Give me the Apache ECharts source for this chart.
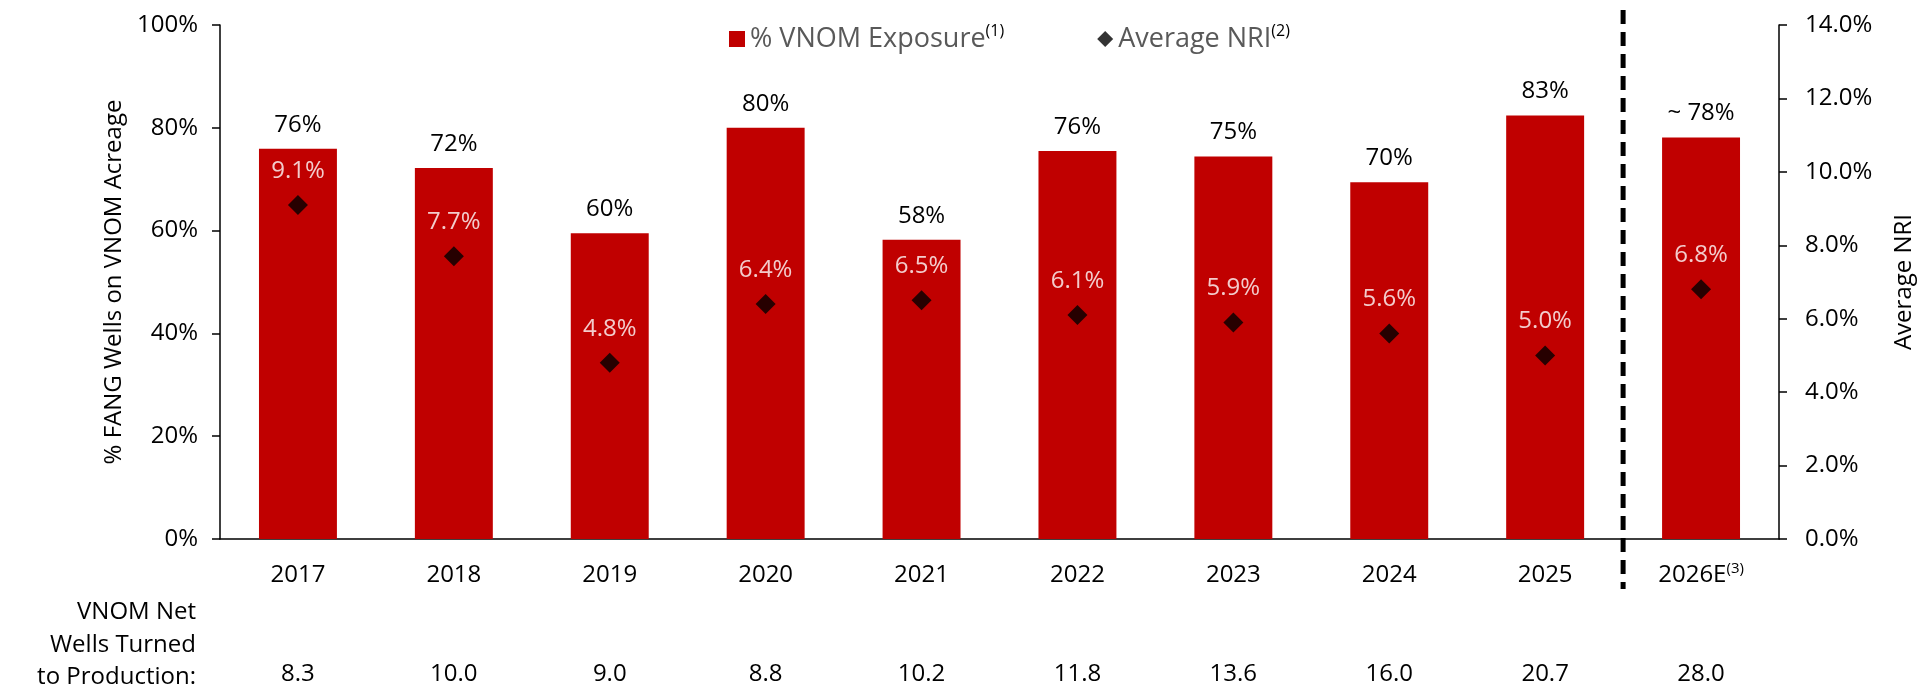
<!DOCTYPE html>
<html>
<head>
<meta charset="utf-8">
<script src="https://cdn.jsdelivr.net/npm/echarts@6/dist/echarts.min.js"></script>
<style>
  html, body { margin: 0; padding: 0; background: #fff; }
  #chart { width: 1921px; height: 689px; }
</style>
</head>
<body>
<div id="chart"></div>
<script>
// data
var categories = ["2017", "2018", "2019", "2020", "2021", "2022", "2023", "2024", "2025", "2026E"];
var exposure = [75.9, 72.2, 59.5, 80.0, 58.2, 75.5, 74.4, 69.4, 82.4, 78.1];
var exposureLabels = ["76%", "72%", "60%", "80%", "58%", "76%", "75%", "70%", "83%", "~ 78%"];
var nri = [9.1, 7.7, 4.8, 6.4, 6.5, 6.1, 5.9, 5.6, 5.0, 6.8];
var wells = ["8.3", "10.0", "9.0", "8.8", "10.2", "11.8", "13.6", "16.0", "20.7", "28.0"];
var legendSup = { "% VNOM Exposure": "(1)", "Average NRI": "(2)" };

var FONT = "Open Sans";
var chartDom = document.getElementById("chart");
var myChart = echarts.init(chartDom);
var option;

option = {
  animation: false,
  textStyle: { fontFamily: FONT, color: "#000" },
  legend: {
    left: 724,
    top: 18,
    itemGap: 93,
    itemWidth: 16,
    itemHeight: 16,
    data: [
      { name: "% VNOM Exposure", icon: "rect" },
      { name: "Average NRI", icon: "diamond" },
    ],
    formatter: function (name) {
      return "{n|" + name + "}{s|" + legendSup[name] + "}";
    },
    textStyle: {
      fontFamily: FONT,
      color: "#595959",
      rich: {
        n: { fontFamily: FONT, fontSize: 27, color: "#595959", lineHeight: 32 },
        s: { fontFamily: FONT, fontSize: 16, color: "#000", lineHeight: 16, verticalAlign: "top" },
      },
    },
  },
  grid: {
    left: 220,
    right: 142,
    top: 25,
    bottom: 150,
    outerBoundsMode: "none",
  },
  xAxis: [
    {
      type: "category",
      data: categories,
      axisLine: { lineStyle: { color: "#000", width: 1.5 } },
      axisTick: { length: 8, lineStyle: { color: "#000", width: 1.5 } },
      axisLabel: {
        interval: 0,
        margin: 22,
        fontSize: 24,
        color: "#000",
        fontFamily: FONT,
        formatter: function (v) {
          return v === "2026E" ? "{c|2026E}{s|(3)}" : "{c|" + v + "}";
        },
        rich: {
          c: { fontFamily: FONT, fontSize: 24, color: "#000", lineHeight: 28 },
          s: { fontFamily: FONT, fontSize: 15, color: "#000", lineHeight: 14, verticalAlign: "top" },
        },
      },
    },
    {
      type: "category",
      position: "bottom",
      offset: 101,
      data: categories,
      axisLine: { show: false },
      axisTick: { show: false },
      axisLabel: {
        interval: 0,
        margin: 22,
        fontSize: 24,
        color: "#000",
        fontFamily: FONT,
        formatter: function (v, i) {
          return wells[i];
        },
      },
    },
  ],
  yAxis: [
    {
      type: "value",
      min: 0,
      max: 100,
      interval: 20,
      name: "% FANG Wells on VNOM Acreage",
      nameLocation: "middle",
      nameGap: 92,
      nameRotate: 90,
      nameTextStyle: { fontFamily: FONT, fontSize: 24, color: "#000" },
      splitLine: { show: false },
      axisLine: { show: true, lineStyle: { color: "#000", width: 1.5 } },
      axisTick: { show: true, length: 8, lineStyle: { color: "#000", width: 1.5 } },
      axisLabel: {
        margin: 22,
        fontSize: 24,
        color: "#000",
        fontFamily: FONT,
        formatter: "{value}%",
      },
    },
    {
      type: "value",
      position: "right",
      min: 0,
      max: 14,
      interval: 2,
      name: "Average NRI",
      nameLocation: "middle",
      nameGap: 113,
      nameRotate: 90,
      nameTextStyle: { fontFamily: FONT, fontSize: 24, color: "#000" },
      splitLine: { show: false },
      axisLine: { show: true, lineStyle: { color: "#000", width: 1.5 } },
      axisTick: { show: true, length: 8, lineStyle: { color: "#000", width: 1.5 } },
      axisLabel: {
        margin: 26,
        fontSize: 24,
        color: "#000",
        fontFamily: FONT,
        formatter: function (v) {
          return v.toFixed(1) + "%";
        },
      },
    },
  ],
  series: [
    {
      name: "% VNOM Exposure",
      type: "bar",
      barWidth: "50%",
      itemStyle: { color: "#C00000" },
      data: exposure,
      label: {
        show: true,
        position: "top",
        distance: 12,
        fontSize: 24,
        fontFamily: FONT,
        color: "#000",
        formatter: function (p) {
          return exposureLabels[p.dataIndex];
        },
      },
    },
    {
      name: "Average NRI",
      type: "scatter",
      yAxisIndex: 1,
      symbol: "diamond",
      symbolSize: 20,
      itemStyle: { color: "#000" },
      data: nri,
      z: 5,
      label: {
        show: true,
        position: "top",
        distance: 12,
        fontSize: 24,
        fontFamily: FONT,
        color: "#fff",
        formatter: function (p) {
          return p.value.toFixed(1) + "%";
        },
      },
    },
  ],
};

option && myChart.setOption(option);

// row title + forecast divider between the last actual year and the estimate
var xa = myChart.convertToPixel({ xAxisIndex: 0 }, "2025");
var xb = myChart.convertToPixel({ xAxisIndex: 0 }, "2026E");
var yTop = myChart.convertToPixel({ yAxisIndex: 0 }, 100) - 15;
var yBot = myChart.convertToPixel({ yAxisIndex: 0 }, 0) + 50;
var dx = (xa + xb) / 2;
myChart.setOption({
  graphic: [
    {
      type: "text",
      style: {
        text: "VNOM Net\nWells Turned\nto Production:",
        x: 196,
        y: 645,
        align: "right",
        verticalAlign: "middle",
        lineHeight: 32.5,
        fontSize: 24,
        fontFamily: FONT,
        fill: "#000",
      },
    },
    {
      type: "line",
      z: 10,
      shape: { x1: dx, y1: yTop, x2: dx, y2: yBot },
      style: { stroke: "#000", lineWidth: 5, lineDash: [14, 8] },
    },
  ],
});
</script>
</body>
</html>
